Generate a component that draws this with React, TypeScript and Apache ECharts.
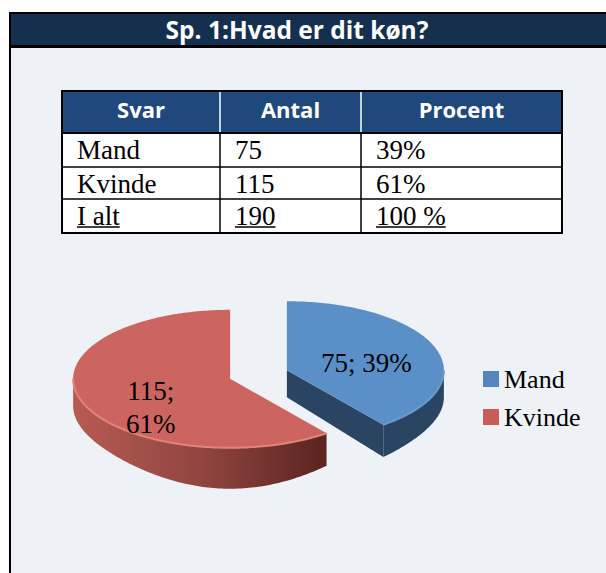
import { useEffect, useRef } from 'react';
import * as echarts from 'echarts';

// ---------- data ----------
const titleText = 'Sp. 1:Hvad er dit køn?';
const tableHeaders = ['Svar', 'Antal', 'Procent'];
const categories = ['Mand', 'Kvinde'];
const counts = [75, 115];
const percentLabels = ['39%', '61%'];
const totalRow = ['I alt', '190', '100 %'];

// ---------- styles ----------
const topColors = ['#5b8fc7', '#cc6560'];
const wallColors = ['#2a4561', '#6b2b26'];
const rimColors = ['#6a9bd0', '#e0847c'];
const legendColors = ['#5585be', '#c65e58'];
const SERIF = '"Liberation Serif", "Times New Roman", serif';
const SANS = '"Open Sans", "Noto Sans", sans-serif';

// table layout
const colX = [62, 220, 361, 562];
const rowY = [91, 133, 167, 199, 233];

// pie layout
const PIE_CX = 258.5;
const PIE_CY = 374.5;
const RX = 157;
const RY = 69;
const EXPLODE = 30;
const thick = (t: number) => 27 + 14 * Math.pow(Math.max(0, -Math.cos(t)), 4);

function arc(a0: number, a1: number, f: (t: number) => number[]) {
  const n = Math.max(2, Math.ceil(((a1 - a0) / Math.PI) * 180));
  const pts: number[][] = [];
  for (let k = 0; k <= n; k++) pts.push(f(a0 + ((a1 - a0) * k) / n));
  return pts;
}

function measure(text: string, font: string) {
  const c = document.createElement('canvas').getContext('2d')!;
  c.font = font;
  return c.measureText(text).width;
}

function makeRender(i: number) {
  return (_params: any, api: any) => {
    const v = api.value(0) as number;
    const s = api.value(1) as number;
    const total = counts.reduce((a, b) => a + b, 0);
    const a0 = (s / total) * Math.PI * 2;
    const a1 = ((s + v) / total) * Math.PI * 2;
    const mid = (a0 + a1) / 2;
    const ox = PIE_CX + EXPLODE * Math.sin(mid);
    const oy = PIE_CY - EXPLODE * (RY / RX) * Math.cos(mid);
    const top = (t: number) => [ox + RX * Math.sin(t), oy - RY * Math.cos(t)];
    const bot = (t: number) => {
      const p = top(t);
      return [p[0], p[1] + thick(t)];
    };
    const hc = thick(Math.PI / 2);
    const children: any[] = [];
    const wall = (t: number) => ({
      type: 'polygon',
      shape: { points: [[ox, oy], top(t), bot(t), [ox, oy + hc]] },
      style: { fill: wallColors[i] },
    });
    if (Math.sin(a0) < -1e-6) children.push(wall(a0));
    if (Math.sin(a1) > 1e-6) children.push(wall(a1));
    const s0 = Math.max(a0, Math.PI / 2);
    const s1 = Math.min(a1, (Math.PI * 3) / 2);
    if (s1 > s0) {
      const upper = arc(s0, s1, top);
      const lower = arc(s0, s1, bot).reverse();
      const fill =
        i === 1
          ? new echarts.graphic.LinearGradient(0, 0, 1, 0, [
              { offset: 0, color: '#b75b53' },
              { offset: 0.5, color: '#914540' },
              { offset: 1, color: '#5a2420' },
            ])
          : wallColors[i];
      children.push({ type: 'polygon', shape: { points: [...upper, ...lower] }, style: { fill } });
    }
    children.push({
      type: 'polygon',
      shape: { points: [[ox, oy], ...arc(a0, a1, top)] },
      style: { fill: topColors[i] },
    });
    if (s1 > s0) {
      children.push({
        type: 'polyline',
        shape: { points: arc(s0, s1, top) },
        style: { stroke: rimColors[i], lineWidth: 2, fill: null },
      });
    }
    const multi = i === 1;
    const text = `${counts[i]};${multi ? '\n' : ' '}${percentLabels[i]}`;
    const f = 0.535;
    children.push({
      type: 'text',
      x: ox + RX * Math.sin(mid) * f,
      y: oy - RY * Math.cos(mid) * f + 5 + (multi ? 12 : 0),
      style: {
        text,
        fontFamily: SERIF,
        fontSize: 27,
        lineHeight: 33,
        fill: '#000',
        align: 'center',
        verticalAlign: 'middle',
      },
    });
    return { type: 'group', children };
  };
}

function buildGraphic() {
  const els: any[] = [];
  // panel
  els.push({ type: 'rect', shape: { x: 11, y: 48, width: 595, height: 525 }, style: { fill: '#eef2f6' } });
  els.push({ type: 'rect', shape: { x: 9, y: 12, width: 2, height: 561 }, style: { fill: '#000' } });
  els.push({ type: 'rect', shape: { x: 9, y: 12, width: 597, height: 36 }, style: { fill: '#000' } });
  els.push({ type: 'rect', shape: { x: 11, y: 14, width: 595, height: 31 }, style: { fill: '#15304f' } });
  els.push({
    type: 'text',
    x: 297,
    y: 29,
    style: {
      text: titleText,
      fontFamily: SANS,
      fontWeight: 'bold',
      fontSize: 24.5,
      fill: '#fff',
      align: 'center',
      verticalAlign: 'middle',
    },
  });
  // table backgrounds
  const tw = colX[3] - colX[0];
  els.push({ type: 'rect', shape: { x: colX[0], y: rowY[0], width: tw, height: rowY[1] - rowY[0] }, style: { fill: '#1f497d' } });
  els.push({ type: 'rect', shape: { x: colX[0], y: rowY[1], width: tw, height: rowY[4] - rowY[1] }, style: { fill: '#fff' } });
  for (let c = 1; c < 3; c++) {
    els.push({ type: 'line', shape: { x1: colX[c], y1: rowY[0], x2: colX[c], y2: rowY[1] }, style: { stroke: '#fff', lineWidth: 1.5 } });
    els.push({ type: 'line', shape: { x1: colX[c], y1: rowY[1], x2: colX[c], y2: rowY[4] }, style: { stroke: '#000', lineWidth: 1.5 } });
  }
  for (let r = 2; r < 4; r++) {
    els.push({ type: 'line', shape: { x1: colX[0], y1: rowY[r], x2: colX[3], y2: rowY[r] }, style: { stroke: '#000', lineWidth: 1.5 } });
  }
  els.push({ type: 'line', shape: { x1: colX[0], y1: rowY[1], x2: colX[3], y2: rowY[1] }, style: { stroke: '#000', lineWidth: 2 } });
  els.push({
    type: 'rect',
    shape: { x: colX[0], y: rowY[0], width: tw, height: rowY[4] - rowY[0] },
    style: { fill: null, stroke: '#000', lineWidth: 2 },
  });
  tableHeaders.forEach((h, c) => {
    els.push({
      type: 'text',
      x: (colX[c] + colX[c + 1]) / 2,
      y: (rowY[0] + rowY[1]) / 2 - 3,
      style: { text: h, fontFamily: SANS, fontWeight: 'bold', fontSize: 22, fill: '#fff', align: 'center', verticalAlign: 'middle' },
    });
  });
  const rows = [
    ...categories.map((cat, i) => [cat, String(counts[i]), percentLabels[i]]),
    totalRow,
  ];
  const bodyFont = `27px ${SERIF}`;
  rows.forEach((row, r) => {
    const isTotal = r === rows.length - 1;
    row.forEach((cell, c) => {
      const x = colX[c] + 15;
      const y = rowY[r + 1] + 17;
      els.push({
        type: 'text',
        x,
        y,
        style: { text: cell, fontFamily: SERIF, fontSize: 27, fill: '#000', align: 'left', verticalAlign: 'middle' },
      });
      if (isTotal) {
        const w = measure(cell, bodyFont);
        els.push({ type: 'line', shape: { x1: x, y1: y + 11, x2: x + w, y2: y + 11 }, style: { stroke: '#000', lineWidth: 1.3 } });
      }
    });
  });
  return els;
}

export default function App() {
  const ref = useRef<HTMLDivElement>(null);
  useEffect(() => {
    if (!ref.current) return;
    const chart = echarts.init(ref.current, undefined, { renderer: 'svg' });
    const starts = counts.map((_, i) => counts.slice(0, i).reduce((a, b) => a + b, 0));
    chart.setOption({
      animation: false,
      backgroundColor: '#fff',
      graphic: { elements: buildGraphic() },
      legend: {
        data: categories,
        orient: 'vertical',
        left: 478,
        top: 359,
        icon: 'rect',
        itemWidth: 16,
        itemHeight: 16,
        itemGap: 8,
        textStyle: { fontFamily: SERIF, fontSize: 26, color: '#000', lineHeight: 30 },
      },
      series: categories.map((name, i) => ({
        type: 'custom',
        name,
        coordinateSystem: 'none',
        silent: true,
        z: 10,
        itemStyle: { color: legendColors[i] },
        data: [[counts[i], starts[i]]],
        renderItem: makeRender(i),
      })),
    });
    return () => chart.dispose();
  }, []);
  return <div ref={ref} style={{ position: 'fixed', left: 0, top: 0, width: 606, height: 573 }} />;
}
